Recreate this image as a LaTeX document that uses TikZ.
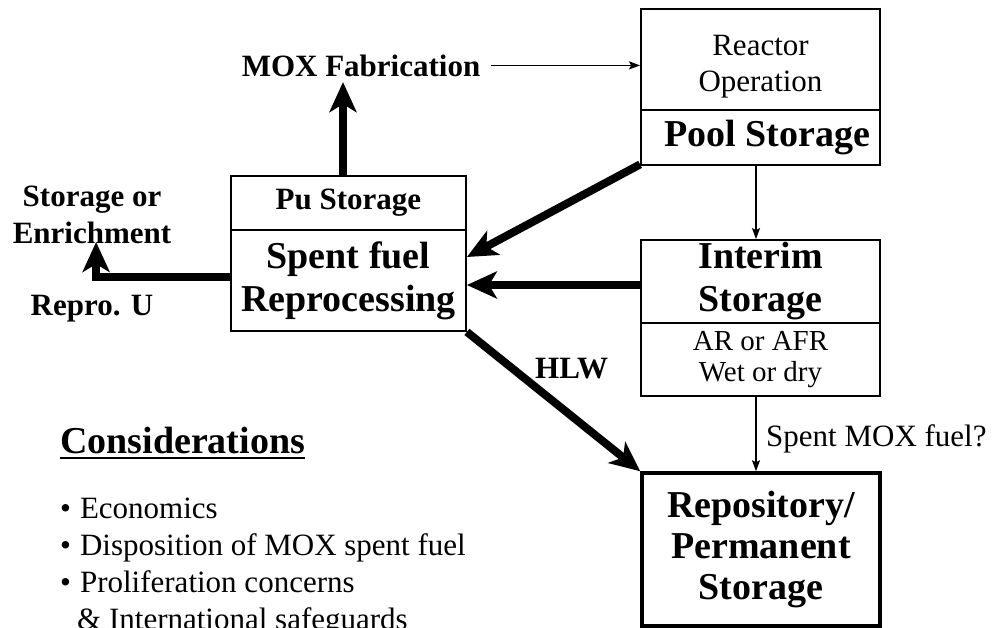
\documentclass[tikz,border=0pt]{standalone}
\usepackage{fontspec}
\setmainfont{Liberation Serif}
\usetikzlibrary{arrows.meta}
\begin{document}
\begin{tikzpicture}[x=1pt,y=-1pt,
  box/.style={draw, line width=1.8pt, inner sep=0pt, align=center},
  bigbold/.style={font=\fontsize{38}{43}\selectfont\bfseries},
  midbold/.style={font=\fontsize{31}{37}\selectfont\bfseries},
  plain/.style={font=\fontsize{31}{36}\selectfont},
  small/.style={font=\fontsize{29}{31}\selectfont},
  label/.style={inner sep=0pt},
  heavy/.style={line width=8pt, -{Stealth[length=30pt,width=27pt,inset=8pt]}},
  light/.style={line width=1.6pt, -{Stealth[length=11pt,width=8pt,inset=2pt]}}]
\useasboundingbox (0,0) rectangle (996,627);

% reactor and pool storage
\node[box, minimum width=239pt, minimum height=101pt] (rx) at (760.5,59.5) {};
\node[label, plain, align=center] (rxt) at (760.5,67) {Reactor\\Operation};
\node[box, bigbold, minimum width=239pt, minimum height=55pt] (pool) at (760.5,137.5) {\hspace{14pt}Pool Storage};

% interim storage
\node[box, bigbold, minimum width=239pt, minimum height=83pt] (it) at (760.5,281.5) {Interim\\Storage};
\node[box, small, minimum width=239pt, minimum height=73pt] (ib) at (760.5,359.5) {AR or AFR\\Wet or dry};

% repository
\node[box, line width=3.5pt, minimum width=238pt, minimum height=153pt,
      font=\fontsize{38}{41}\selectfont\bfseries] (rep) at (761,549.5) {Repository/\\Permanent\\Storage};

% reprocessing
\node[box, midbold, minimum width=235pt, minimum height=54pt] (sft) at (348.5,203) {Pu Storage};
\node[box, bigbold, minimum width=235pt, minimum height=101pt] (sfb) at (348.5,280.5) {Spent fuel\\Reprocessing};

% free labels
\node[label, midbold, anchor=base] (mox) at (361,76) {MOX Fabrication};
\node[label, midbold, align=center] (enr) at (92,215) {Storage or\\Enrichment};
\node[label, midbold, anchor=base] (ru) at (92,315) {Repro. U};
\node[label, midbold, anchor=base west] (hlw) at (535,378) {HLW};
\node[label, plain, anchor=base west] (smf) at (766,446) {Spent MOX fuel?};

% flows
\draw[light] ([xshift=11pt]mox.east) -- (mox.east -| rx.west);
\draw[heavy] ([xshift=-5.5pt]sft.north) -- ++(0,-93);
\draw[heavy] ([yshift=3.5pt]sfb.west) -- ++(-134,0) -- ++(0,-35);
\draw[heavy] ([yshift=1.5pt]pool.south west) -- ([yshift=23.5pt]sfb.east);
\draw[heavy] ([yshift=-3.5pt]it.west) -- ([yshift=-3.5pt]it.west -| sfb.east);
\draw[heavy] (sfb.south east) -- (rep.north west);
\draw[light] ([xshift=-4.5pt]pool.south) -- ([xshift=-4.5pt]it.north);
\draw[light] ([xshift=-4.5pt]ib.south) -- ([xshift=-5pt]rep.north);

% considerations list
\node[label, bigbold, anchor=base west] (cons) at (60,453) {Considerations};
\draw[line width=2pt] ([yshift=-5pt]cons.base west) -- ([yshift=-5pt]cons.base east);
\node[label, plain, anchor=base west] (b1) at (60,518) {•\hspace{9pt}Economics};
\node[label, plain, anchor=base west] (b2) at (60,555) {•\hspace{9pt}Disposition of MOX spent fuel};
\node[label, plain, anchor=base west] (b3) at (60,592) {•\hspace{9pt}Proliferation concerns};
\node[label, plain, anchor=base west] (b4) at (77,629) {\& International safeguards};
\end{tikzpicture}
\end{document}
